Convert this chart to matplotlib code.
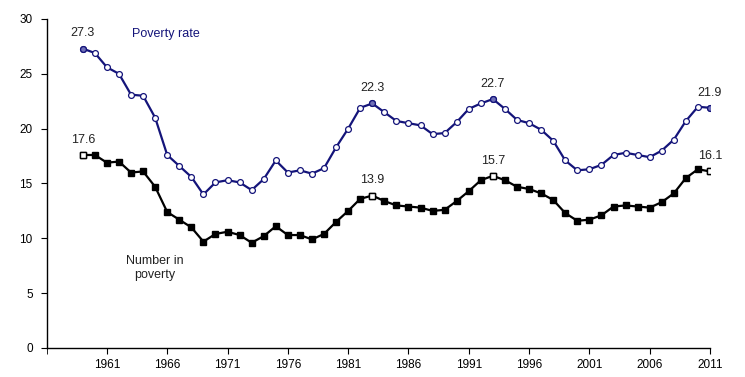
import matplotlib

matplotlib.use("Agg")
import matplotlib.pyplot as plt
import numpy as np

plt.rcParams["font.family"] = ["Liberation Sans", "DejaVu Sans"]

# --- data ---
years = np.arange(1959, 2012)
rate = [27.3, 26.9, 25.6, 25.0, 23.1, 23.0, 21.0, 17.6, 16.6, 15.6,
        14.0, 15.1, 15.3, 15.1, 14.4, 15.4, 17.1, 16.0, 16.2, 15.9,
        16.4, 18.3, 20.0, 21.9, 22.3, 21.5, 20.7, 20.5, 20.3, 19.5,
        19.6, 20.6, 21.8, 22.3, 22.7, 21.8, 20.8, 20.5, 19.9, 18.9,
        17.1, 16.2, 16.3, 16.7, 17.6, 17.8, 17.6, 17.4, 18.0, 19.0,
        20.7, 22.0, 21.9]
number = [17.6, 17.6, 16.9, 17.0, 16.0, 16.1, 14.7, 12.4, 11.7, 11.0,
          9.7, 10.4, 10.6, 10.3, 9.6, 10.2, 11.1, 10.3, 10.3, 9.9,
          10.4, 11.5, 12.5, 13.6, 13.9, 13.4, 13.0, 12.9, 12.8, 12.5,
          12.6, 13.4, 14.3, 15.3, 15.7, 15.3, 14.7, 14.5, 14.1, 13.5,
          12.3, 11.6, 11.7, 12.1, 12.9, 13.0, 12.9, 12.8, 13.3, 14.1,
          15.5, 16.3, 16.1]
label_years = [1959, 1983, 1993, 2011]
tick_years = list(range(1961, 2012, 5))

NAVY = "#14147a"

fig = plt.figure(figsize=(7.45, 3.77), dpi=100)
ax = fig.add_axes([46.6 / 745, 29 / 377, (710 - 46.6) / 745, (348 - 19) / 377])

ax.plot(years, rate, color=NAVY, lw=1.6, marker="o", ms=4.2,
        mfc="white", mec=NAVY, mew=0.9, zorder=3)
ax.plot(years, number, color="black", lw=1.6, marker="s", ms=4.6,
        mfc="black", mec="black", zorder=3)

for y in label_years:
    i = y - years[0]
    ax.plot(y, rate[i], marker="o", ms=4.2, mfc="#7070b8", mec=NAVY,
            mew=0.9, ls="none", zorder=4)
    ax.plot(y, number[i], marker="s", ms=4.6, mfc="white", mec="black",
            mew=1.0, ls="none", zorder=4)
    ax.annotate(f"{rate[i]:.1f}", (y, rate[i]), xytext=(0, 11),
                textcoords="offset points", ha="center", va="center",
                fontsize=9, color="#222222")
    ax.annotate(f"{number[i]:.1f}", (y, number[i]), xytext=(0, 11),
                textcoords="offset points", ha="center", va="center",
                fontsize=9, color="#222222")

ax.text(1963.05, 28.6, "Poverty rate", color=NAVY, fontsize=9, va="center")
ax.text(1965.0, 7.3, "Number in\npoverty", color="#222222", fontsize=9,
        ha="center", va="center", linespacing=1.2)

ax.set_xlim(1956, 2011)
ax.set_ylim(0, 30)
ax.set_yticks(range(0, 31, 5))
ax.set_xticks(tick_years)
ax.set_xticks([1956] + tick_years, minor=True)
ax.tick_params(axis="x", which="major", length=4, labelsize=8.5, pad=4)
ax.tick_params(axis="x", which="minor", length=4)
ax.tick_params(axis="y", length=4, labelsize=8.5, pad=6)
ax.spines["top"].set_visible(False)
ax.spines["right"].set_visible(False)
ax.spines["left"].set_linewidth(1.0)
ax.spines["bottom"].set_linewidth(1.0)

fig.savefig("out.png", dpi=100)
